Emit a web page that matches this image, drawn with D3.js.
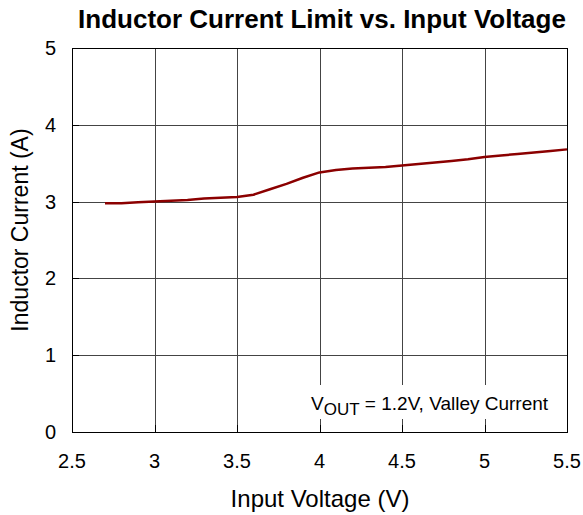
<!DOCTYPE html>
<html><head><meta charset="utf-8">
<script src="https://cdn.jsdelivr.net/npm/d3@7"></script>
<style>body{margin:0;background:#fff;} text{font-family:"Liberation Sans",Arial,sans-serif;}</style>
</head><body><svg id="c" width="583" height="515"></svg>
<script>
const vin = [2.7,2.8,2.9,3.0,3.1,3.2,3.3,3.4,3.5,3.6,3.7,3.8,3.9,4.0,4.1,4.2,4.3,4.4,4.5,4.6,4.7,4.8,4.9,5.0,5.1,5.2,5.3,5.4,5.5];
const current = [2.98,2.98,2.99,3.00,3.01,3.02,3.04,3.05,3.06,3.09,3.16,3.23,3.31,3.38,3.41,3.43,3.44,3.45,3.47,3.49,3.51,3.53,3.55,3.58,3.60,3.62,3.64,3.66,3.68];
const xTicks = [2.5,3,3.5,4,4.5,5,5.5];
const yTicks = [0,1,2,3,4,5];
const title = "Inductor Current Limit vs. Input Voltage";

const svg = d3.select("#c");
const L=72, R=567, T=48, B=432;
const x = d3.scaleLinear().domain([2.5,5.5]).range([L,R]);
const y = d3.scaleLinear().domain([0,5]).range([B,T]);

// grid
const g = svg.append("g");
g.selectAll(".vx").data(xTicks).join("line")
  .attr("x1",d=>Math.round(x(d))+0.5).attr("x2",d=>Math.round(x(d))+0.5)
  .attr("y1",T).attr("y2",B).attr("stroke","#444").attr("stroke-width",1);
g.selectAll(".hy").data(yTicks).join("line")
  .attr("y1",d=>Math.round(y(d))+0.5).attr("y2",d=>Math.round(y(d))+0.5)
  .attr("x1",L).attr("x2",R).attr("stroke","#444").attr("stroke-width",1);

// annotation background
svg.append("rect").attr("x",304).attr("y",385).attr("width",252).attr("height",34).attr("fill","#fff");

// ticks inward
svg.append("g").selectAll("line").data(xTicks).join("line")
  .attr("x1",d=>Math.round(x(d))+0.5).attr("x2",d=>Math.round(x(d))+0.5)
  .attr("y1",B).attr("y2",B-7).attr("stroke","#000");
svg.append("g").selectAll("line").data(yTicks).join("line")
  .attr("y1",d=>Math.round(y(d))+0.5).attr("y2",d=>Math.round(y(d))+0.5)
  .attr("x1",L).attr("x2",L+7).attr("stroke","#000");

// frame
svg.append("rect").attr("x",L+0.5).attr("y",T+0.5).attr("width",R-L).attr("height",B-T)
  .attr("fill","none").attr("stroke","#000").attr("stroke-width",1);

// line
svg.append("path").datum(vin.map((v,i)=>[v,current[i]]))
  .attr("d",d3.line().x(d=>x(d[0])).y(d=>y(d[1])))
  .attr("fill","none").attr("stroke","#8B0000").attr("stroke-width",2.5).attr("stroke-linejoin","round");

// tick labels
svg.append("g").selectAll("text").data(xTicks).join("text")
  .attr("x",d=>x(d)).attr("y",468).attr("text-anchor","middle").attr("font-size",20).text(d=>d);
svg.append("g").selectAll("text").data(yTicks).join("text")
  .attr("x",56).attr("y",d=>y(d)+7).attr("text-anchor","end").attr("font-size",20).text(d=>d);

// annotation
const ann = svg.append("text").attr("x",311).attr("y",410).attr("font-size",19);
ann.append("tspan").text("V");
ann.append("tspan").attr("dy",5).attr("font-size",17).text("OUT");
ann.append("tspan").attr("dy",-5).text(" = 1.2V, Valley Current");

// titles
svg.append("text").attr("x",322).attr("y",28).attr("text-anchor","middle")
  .attr("font-size",26).attr("font-weight","bold").text(title);
svg.append("text").attr("x",320).attr("y",507).attr("text-anchor","middle")
  .attr("font-size",24).text("Input Voltage (V)");
svg.append("text").attr("transform","translate(28,230) rotate(-90)").attr("text-anchor","middle")
  .attr("font-size",23).text("Inductor Current (A)");
</script></body></html>
